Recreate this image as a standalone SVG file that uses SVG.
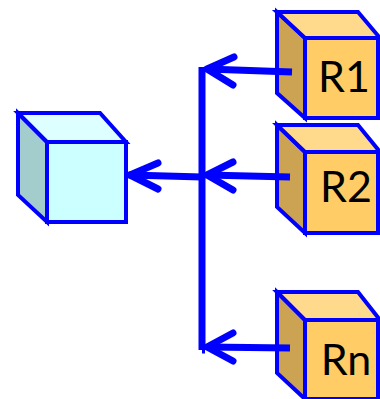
<svg xmlns="http://www.w3.org/2000/svg" width="380" height="399" viewBox="0 0 380 399">
<style>
.e{stroke:#0000FF;stroke-width:4;stroke-linejoin:miter}
.cf{fill:#CCFFFF}.ct{fill:#DDFFFF}.cs{fill:#A3CCCC}
.rf{fill:#FFCC66}.rt{fill:#FFD98C}.rs{fill:#CCA352}
.w{stroke:#0000FF;stroke-width:7;fill:none;stroke-linecap:round;stroke-linejoin:round}
.b{stroke:#0000FF;stroke-width:7;fill:none;stroke-linecap:butt}
text{font-family:Lato,"Open Sans","Liberation Sans",sans-serif;font-size:43px;fill:#000;text-anchor:middle}
</style>
<g id="sink">
<polygon class="e cs" points="18,113 47,142 47,222 18,195"/>
<polygon class="e ct" points="18,113 100,113 126,142 47,142"/>
<rect class="e cf" x="47" y="142" width="79" height="80"/>
</g>
<g id="R1">
<polygon class="e rs" points="277,12 305,38 305,118 277,93"/>
<polygon class="e rt" points="277,12 358,12 380,38 305,38"/>
<rect class="e rf" x="305" y="38" width="73" height="80"/>
<text x="344" y="92">R1</text>
</g>
<g id="R2">
<polygon class="e rs" points="277,125 305,152 305,233 277,207"/>
<polygon class="e rt" points="277,125 358,125 380,152 305,152"/>
<rect class="e rf" x="305" y="152" width="73" height="81"/>
<text x="346" y="202">R2</text>
</g>
<g id="Rn">
<polygon class="e rs" points="277,292 305,320 305,399 277,373"/>
<polygon class="e rt" points="277,292 358,292 380,320 305,320"/>
<rect class="e rf" x="305" y="320" width="73" height="79"/>
<text x="346" y="375">Rn</text>
</g>
<g id="connectors">
<line class="b" x1="202" y1="67" x2="202" y2="350"/>
<line class="b" x1="202" y1="350" x2="205" y2="350"/>
<polyline class="w" points="202,177 130,175"/>
<polyline class="w" points="158,163 130,175 158,189"/>
<line class="b" x1="292" y1="72" x2="207" y2="69"/>
<polyline class="w" points="234,57 207,69 233,85"/>
<line class="b" x1="290" y1="177" x2="207" y2="175"/>
<polyline class="w" points="233,162 207,175 233,190"/>
<line class="b" x1="290" y1="348" x2="207" y2="347"/>
<polyline class="w" points="233,333 207,347 233,361"/>
</g>
</svg>
